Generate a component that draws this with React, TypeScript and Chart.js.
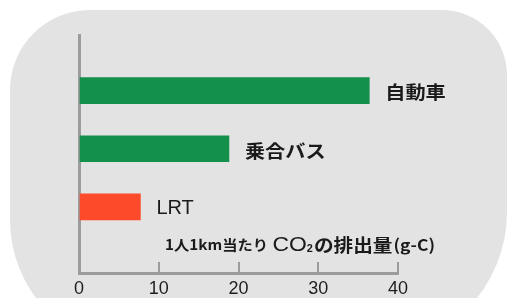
import React, { useEffect, useRef } from "react";
import { Chart, registerables } from "chart.js";

Chart.register(...registerables);

// ---- data ----
const categories = ["自動車", "乗合バス", "LRT"];
const values = [36.4, 18.8, 7.7];
const barColors = ["#13904b", "#13904b", "#fd4a2b"];
const xMin = 0;
const xMax = 40;
const xStep = 10;
const axisTitleMain = "1人1km当たり";
const axisTitleChem = "CO";
const axisTitleSub = "2";
const axisTitleTail = "の排出量";
const axisTitleUnit = "(g-C)";

const CJK = '"Noto Sans CJK JP", "Noto Sans", sans-serif';
const LATIN = '"Liberation Sans", Arial, sans-serif';

const barLabelPlugin = {
  id: "barLabels",
  afterDatasetsDraw(chart: any) {
    const ctx = chart.ctx;
    const meta = chart.getDatasetMeta(0);
    meta.data.forEach((bar: any, i: number) => {
      const text = categories[i];
      const latin = /^[A-Za-z0-9 ]+$/.test(text);
      ctx.save();
      ctx.fillStyle = "#1a1a1a";
      ctx.textBaseline = "middle";
      ctx.textAlign = "left";
      ctx.translate(bar.x + 16, bar.y + 2);
      if (latin) {
        ctx.font = "20px " + LATIN;
      } else {
        ctx.font = "bold 18px " + CJK;
        ctx.scale(1.12, 1);
      }
      ctx.fillText(text, 0, 0);
      ctx.restore();
    });
  },
};

const axisTitlePlugin = {
  id: "axisTitleInside",
  afterDraw(chart: any) {
    const ctx = chart.ctx;
    const area = chart.chartArea;
    const parts = [
      { t: axisTitleMain, f: "bold 14px " + CJK, dy: 0, gap: 4 },
      { t: axisTitleChem, f: "21px " + LATIN, dy: 0, gap: 0 },
      { t: axisTitleSub, f: "bold 10px " + LATIN, dy: 4, gap: 1 },
      { t: axisTitleTail, f: "bold 18px " + CJK, dy: 0, gap: 1 },
      { t: axisTitleUnit, f: "bold 16px " + CJK, dy: 0, gap: 0 },
    ];
    ctx.save();
    let total = 0;
    const widths = parts.map((p) => {
      ctx.font = p.f;
      const w = ctx.measureText(p.t).width;
      total += w + p.gap;
      return w;
    });
    const left = area.left + 86;
    const right = area.right + 37;
    const sx = (right - left) / total;
    const cy = area.bottom - 28;
    ctx.translate(left, cy);
    ctx.scale(sx, 1);
    ctx.fillStyle = "#1a1a1a";
    ctx.textBaseline = "middle";
    ctx.textAlign = "left";
    let x = 0;
    parts.forEach((p, i) => {
      ctx.font = p.f;
      ctx.fillText(p.t, x, p.dy);
      x += widths[i] + p.gap;
    });
    ctx.restore();
  },
};

export default function App() {
  const ref = useRef<HTMLCanvasElement | null>(null);

  useEffect(() => {
    if (!ref.current) return;
    const chart = new Chart(ref.current, {
      type: "bar",
      data: {
        datasets: [
          {
            data: values.map((v, i) => ({ x: v, y: i })) as any,
            backgroundColor: barColors,
            borderWidth: 0,
            barThickness: 26,
          },
        ],
      },
      options: {
        indexAxis: "y",
        responsive: false,
        animation: false,
        events: [],
        layout: { padding: { left: 79, right: 109, top: 35, bottom: 0 } },
        plugins: {
          legend: { display: false },
          tooltip: { enabled: false },
          title: { display: false },
        },
        scales: {
          y: {
            type: "linear",
            reverse: true,
            min: -0.7,
            max: 2.88,
            ticks: { display: false },
            grid: { display: false, drawTicks: false },
            border: { display: true, color: "#9c9c9c", width: 3 },
            afterFit: (s: any) => {
              s.width = 0;
            },
          },
          x: {
            type: "linear",
            min: xMin,
            max: xMax,
            ticks: {
              stepSize: xStep,
              padding: 16,
              color: "#1e1e1e",
              font: { family: '"Liberation Sans Narrow", "Liberation Sans", Arial, sans-serif', size: 18 },
              maxRotation: 0,
            },
            grid: {
              display: true,
              drawOnChartArea: false,
              drawTicks: true,
              tickLength: -11,
              color: "#9c9c9c",
              lineWidth: 2,
            },
            border: { display: true, color: "#9c9c9c", width: 3 },
            afterFit: (s: any) => {
              s.height = 25;
            },
          },
        },
      },
      plugins: [barLabelPlugin, axisTitlePlugin],
    } as any);
    return () => chart.destroy();
  }, []);

  return (
    <div
      style={{
        position: "fixed",
        left: 0,
        top: 0,
        width: 507,
        height: 298,
        overflow: "hidden",
        background: "#ffffff",
      }}
    >
      <div
        style={{
          position: "absolute",
          left: 10,
          top: 10,
          width: 497,
          height: 340,
          background: "#e3e3e3",
          borderRadius: "80px 65px 138px 130px",
        }}
      />
      <canvas
        ref={ref}
        width={507}
        height={298}
        style={{ position: "absolute", left: 0, top: 0, width: 507, height: 298 }}
      />
    </div>
  );
}
